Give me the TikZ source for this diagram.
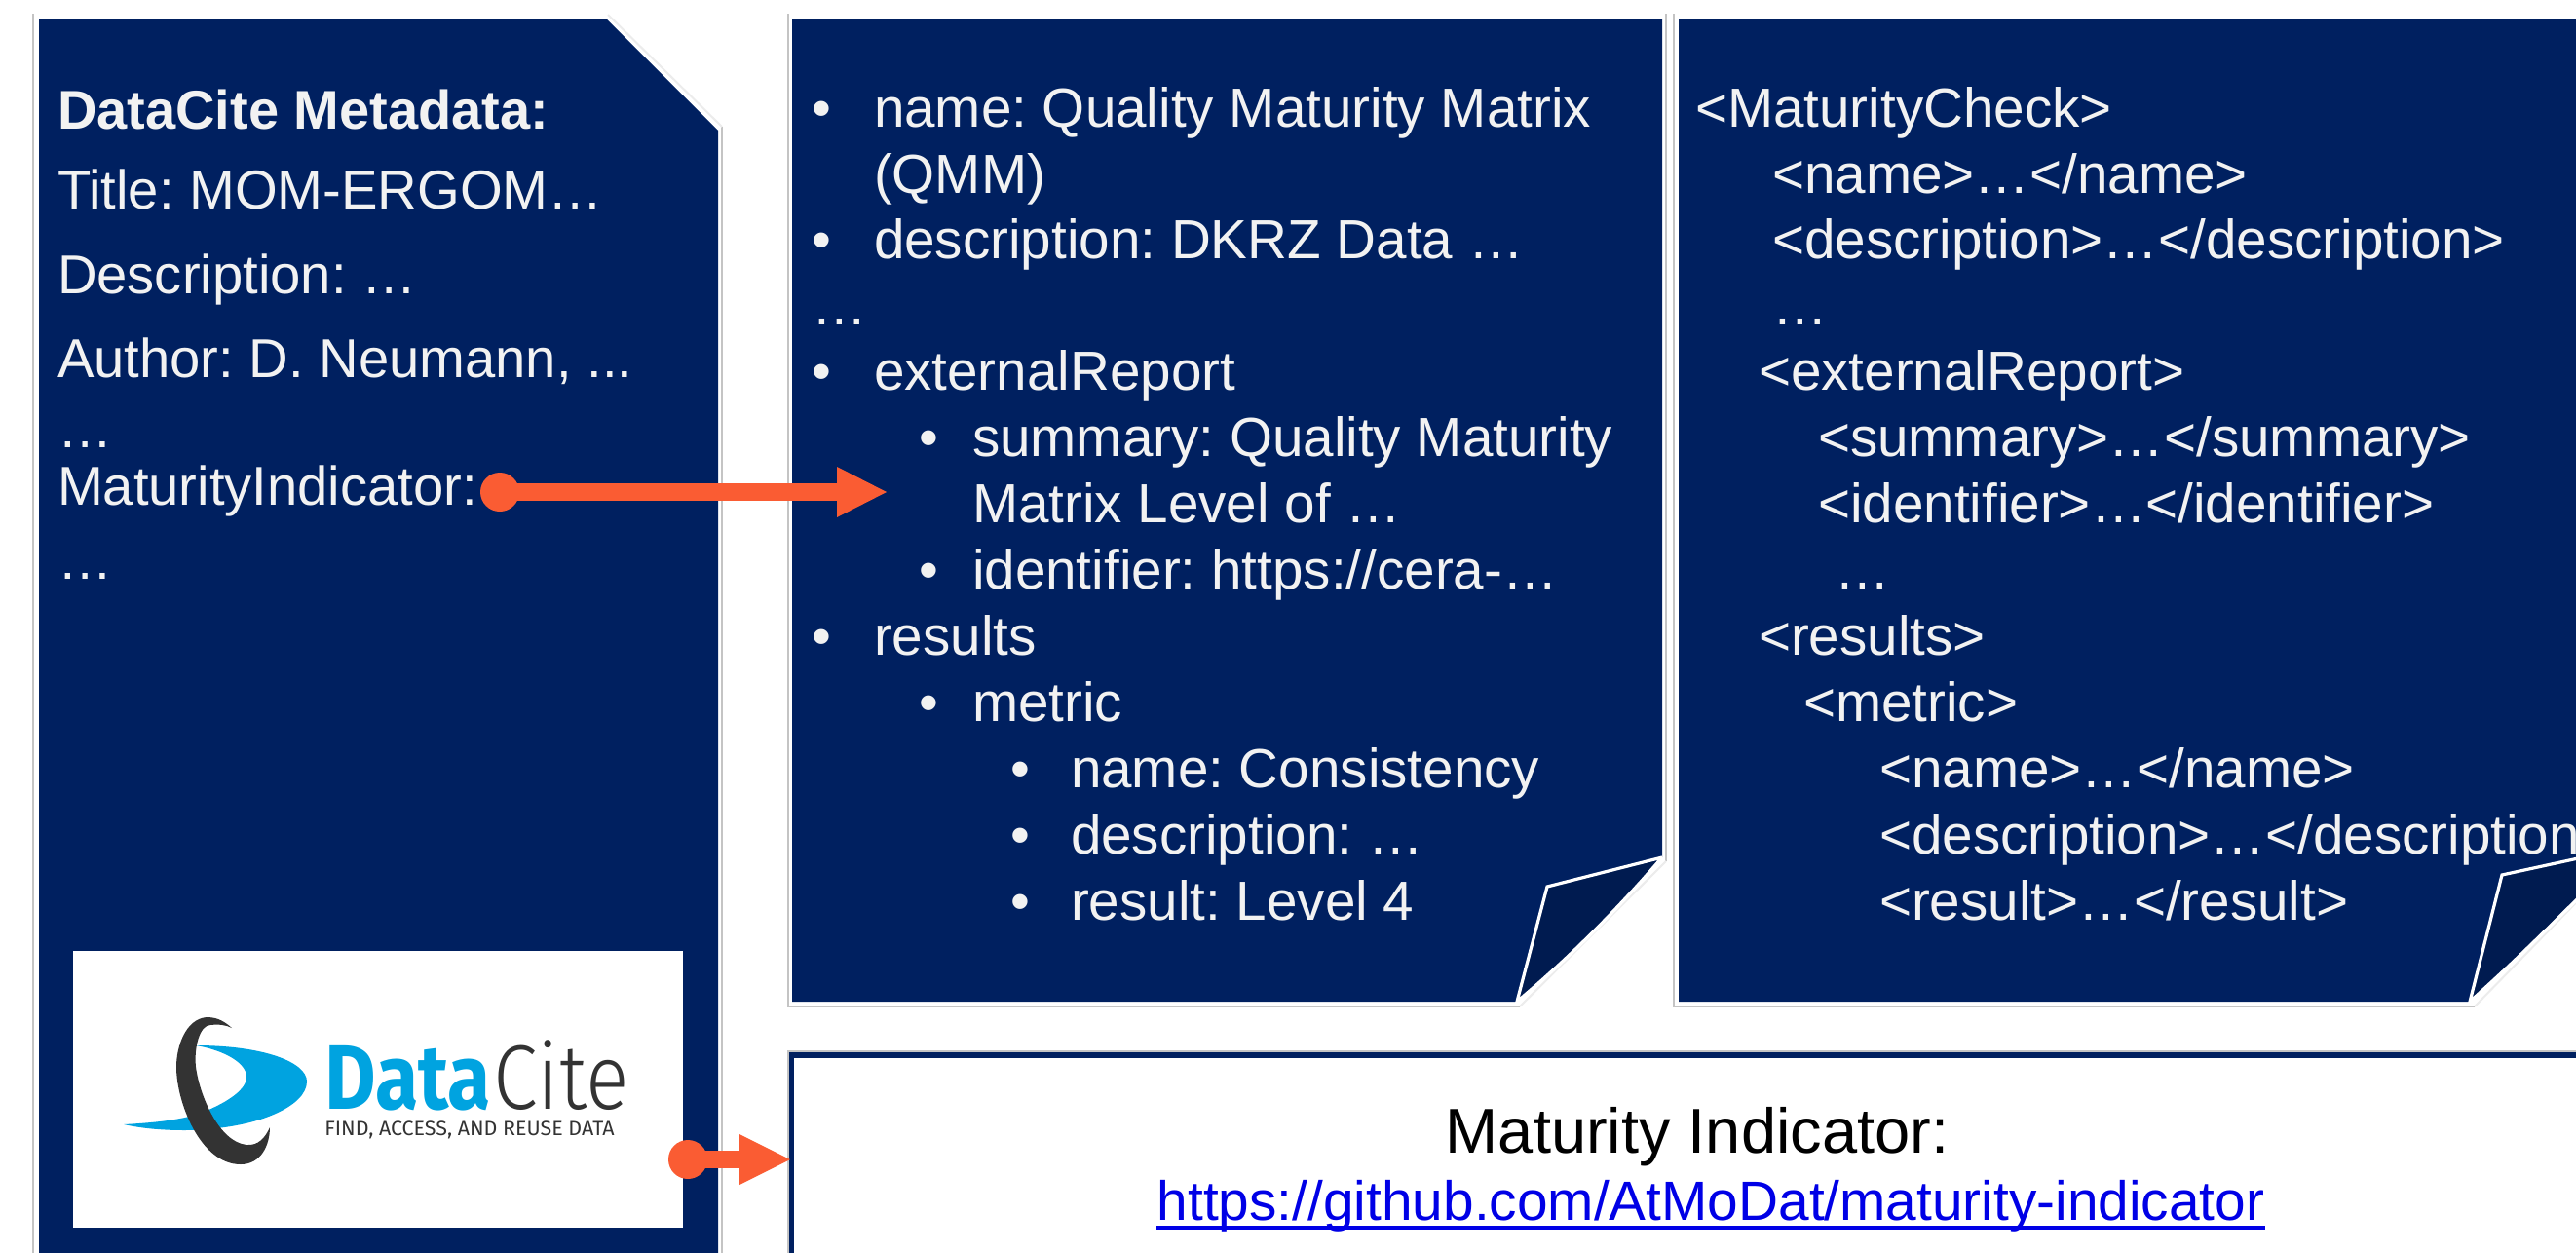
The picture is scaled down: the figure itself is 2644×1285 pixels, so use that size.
\documentclass[tikz,border=0pt]{standalone}
\usepackage{fontspec}
\setmainfont{Liberation Sans}
\newfontfamily\logofont{Fira Sans}
\newfontfamily\logolight{Fira Sans Light}
\frenchspacing
\definecolor{navy}{HTML}{002060}
\definecolor{folddark}{HTML}{001B50}
\definecolor{panelgrey}{HTML}{C4C4C4}
\definecolor{faintgrey}{HTML}{ECECEC}
\definecolor{paneltext}{HTML}{F2F2F2}
\definecolor{orangeacc}{HTML}{FA5C33}
\definecolor{linkblue}{HTML}{0000E6}
\definecolor{logocyan}{HTML}{00A3E0}
\definecolor{logodark}{HTML}{333333}
\tikzset{
  px/.style={x=0.5pt,y=-0.5pt},
  paneltxt/.style={anchor=base west,inner sep=0pt,outer sep=0pt,text=paneltext,font=\fontsize{28.3}{28.3}\selectfont},
  lefttxt/.style={paneltxt,font=\fontsize{28.1}{28.1}\selectfont},
  blacktxt/.style={anchor=base,inner sep=0pt,text=black},
  panelfill/.style={fill=navy,draw=none},
  edge/.style={draw=panelgrey,line width=1pt},
  faintedge/.style={draw=faintgrey,line width=1pt},
  foldback/.style={fill=folddark,draw=white,line width=1.6pt,line join=miter},
  shaft/.style={draw=orangeacc,line width=9pt},
  headtip/.style={fill=orangeacc,draw=none},
  dot/.style={circle,fill=orangeacc,draw=none,minimum size=20pt,inner sep=0pt},
}
\begin{document}
\begin{tikzpicture}[px]
\useasboundingbox (0,0) rectangle (2644,1285);
\fill[white] (0,0) rectangle (2644,1285);
% left panel
\path[edge] (34,14) -- (34,1300);
\path[edge] (741,130) -- (741,1300);
\path[faintedge] (624,15) -- (741,130);
\path[panelfill] (40,19) -- (622,19) -- (737,134) -- (737,1300) -- (40,1300) -- cycle;
% middle panel
\path[edge] (809,14) -- (809,1033) -- (1560,1033);
\path[edge] (1710,14) -- (1710,884);
\path[faintedge] (1710,884) -- (1560,1033);
\path[panelfill] (813,19) -- (1706,19) -- (1706,880) -- (1557,1028) -- (813,1028) -- cycle;
\path[foldback] (1706,880) -- (1588,910) -- (1557,1028) .. controls (1600,992) and (1650,945) .. (1706,880);
% right panel
\path[edge] (1718,14) -- (1718,1033) -- (2540,1033);
\path[faintedge] (2540,1033) -- (2660,910);
\path[panelfill] (1723,19) -- (2660,19) -- (2660,878) -- (2535,1028) -- (1723,1028) -- cycle;
\path[foldback] (2660,878) -- (2568,898) -- (2535,1028) .. controls (2580,988) and (2620,948) .. (2660,908);
% bottom box
\draw[navy,line width=2.6pt,fill=white] (812,1300) -- (812,1083) -- (2660,1083);
\draw[panelgrey,line width=0.6pt] (809,1300) -- (809,1079) -- (2660,1079);
% left text
\node[paneltxt,font=\fontsize{28}{28}\selectfont\bfseries] (l1) at (59,132) {DataCite Metadata:};
\node[lefttxt] (l2) at (59,214) {Title: MOM-ERGOM…};
\node[lefttxt] (l3) at (59,301) {Description: …};
\node[lefttxt] (l4) at (59,387) {Author: D. Neumann, ...};
\node[lefttxt] (l5) at (59,459) {…};
\node[lefttxt] (l6) at (59,518) {MaturityIndicator:};
\node[lefttxt] (l7) at (59,594) {…};
% middle text
\foreach \nm/\yy/\bx/\tx/\tt in {
 a1/130/833/897/{name: Quality Maturity Matrix},
 a3/265/833/897/{description: DKRZ Data …},
 a5/400/833/897/{externalReport},
 a6/468/943/998/{summary: Quality Maturity},
 a8/604/943/998/{identifier: https://cera-…},
 a9/672/833/897/{results},
 a10/740/943/998/{metric},
 a11/808/1037/1099/{name: Consistency},
 a12/876/1037/1099/{description: …},
 a13/944/1037/1099/{result: Level 4}}{
  \node[paneltxt] (b\nm) at (\bx,\yy) {•};
  \node[paneltxt] (\nm) at (\tx,\yy) {\tt};
}
\node[paneltxt] (a2) at (897,198) {(QMM)};
\node[paneltxt] (a4) at (833,333) {…};
\node[paneltxt] (a7) at (998,536) {Matrix Level of …};
% right text
\foreach \nm/\yy/\tx/\tt in {
 c1/130/1740/{<MaturityCheck>},
 c2/198/1819/{<name>…</name>},
 c3/265/1819/{<description>…</description>},
 c4/333/1819/{…},
 c5/400/1805/{<externalReport>},
 c6/468/1866/{<summary>…</summary>},
 c7/536/1866/{<identifier>…</identifier>},
 c8/604/1883/{…},
 c9/672/1805/{<results>},
 c10/740/1851/{<metric>},
 c11/808/1929/{<name>…</name>},
 c12/876/1929/{<description>…</description>},
 c13/944/1929/{<result>…</result>}}{
  \node[paneltxt] (\nm) at (\tx,\yy) {\tt};
}
% logo
\node[fill=white,draw=none,inner sep=0pt,minimum width=313pt,minimum height=142pt,anchor=north west] (logobox) at (75,976) {};
\fill[logocyan] (127,1154) .. controls (165,1152) and (195,1148) .. (212,1140) .. controls (240,1128) and (255,1115) .. (253,1103) .. controls (250,1088) and (225,1077) .. (201,1073) .. controls (270,1073) and (315,1090) .. (315,1110) .. controls (315,1135) and (265,1159) .. (190,1160) .. controls (165,1160) and (145,1158) .. cycle;
\fill[logodark] (238,1055) .. controls (228,1046) and (220,1044) .. (212,1044) .. controls (190,1046) and (181,1075) .. (181,1095) .. controls (181,1130) and (205,1195) .. (247,1195) .. controls (268,1195) and (277,1175) .. (277,1157) .. controls (272,1168) and (265,1176) .. (253,1175) .. controls (225,1172) and (205,1125) .. (201,1095) .. controls (199,1075) and (205,1052) .. (216,1052) .. controls (225,1051) and (232,1052) .. cycle;
\node[inner sep=0pt,anchor=base west,text=logocyan] (logodata) at (333,1138) {\scalebox{0.86}[1]{\fontsize{47}{47}\logofont\bfseries\selectfont Data}};
\node[inner sep=0pt,anchor=base west,text=logodark] (logocite) at (506,1138) {\scalebox{0.88}[1]{\fontsize{47}{47}\logolight\selectfont Cite}};
\node[inner sep=0pt,anchor=base west,text=logodark] (logotag) at (333,1165) {\scalebox{1.02}[1]{\fontsize{10.5}{10.5}\logofont\selectfont FIND, ACCESS, AND REUSE DATA}};
% bottom text
\node[blacktxt,font=\fontsize{32.5}{32.5}\selectfont] (mi) at (1742,1183) {Maturity Indicator:};
\node[blacktxt,font=\fontsize{28.4}{28.4}\selectfont,text=linkblue] (url) at (1756,1252) {https://github.com/AtMoDat/maturity-indicator};
\draw[linkblue,line width=2pt] ([yshift=-4pt]url.base west) -- ([yshift=-4pt]url.base east);
% connectors
\node[dot] (d1) at (513,505) {};
\coordinate (t1) at (910,505);
\draw[shaft] (d1.center) -- ([xshift=-25pt]t1);
\path[headtip] (t1) -- ++(-51,-26) -- ++(0,52) -- cycle;
\node[dot] (d2) at (706,1190) {};
\coordinate (t2) at (811,1190);
\draw[shaft] (d2.center) -- ([xshift=-25pt]t2);
\path[headtip] (t2) -- ++(-52,-26) -- ++(0,52) -- cycle;
\end{tikzpicture}
\end{document}
